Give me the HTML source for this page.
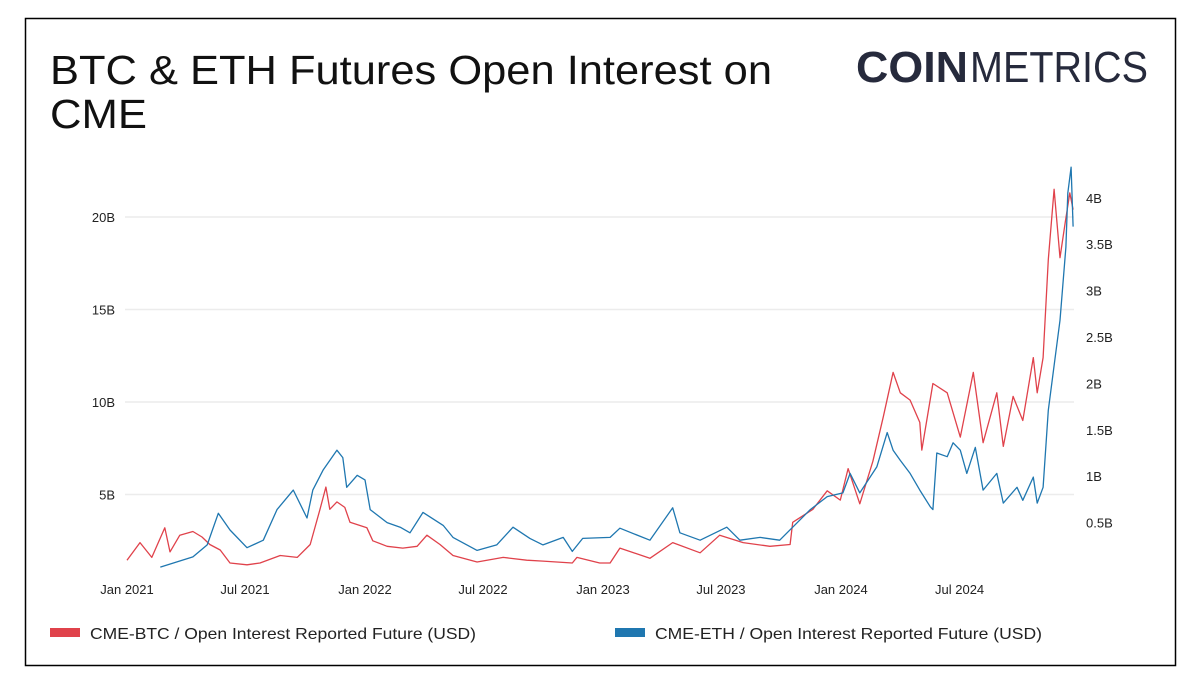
<!DOCTYPE html>
<html><head><meta charset="utf-8"><style>
body{margin:0;background:#fff;width:1200px;height:692px;overflow:hidden;font-family:"Liberation Sans",sans-serif}
</style></head><body>
<svg width="1200" height="692" xmlns="http://www.w3.org/2000/svg">
<rect x="25.5" y="18.5" width="1150" height="647" fill="#fff" stroke="#000" stroke-width="1.5"/>
<text x="50" y="84" font-size="41" fill="#111" textLength="722" lengthAdjust="spacingAndGlyphs">BTC &amp; ETH Futures Open Interest on</text>
<text x="50" y="128" font-size="41" fill="#111" textLength="97" lengthAdjust="spacingAndGlyphs">CME</text>
<g>
<text x="856" y="82" font-size="44" fill="#262a3c" font-weight="bold" textLength="112" lengthAdjust="spacingAndGlyphs">COIN</text>
<text x="970" y="82" font-size="44" fill="#262a3c" textLength="178" lengthAdjust="spacingAndGlyphs" style="font-weight:300">METRICS</text>
</g>
<g id="grid"></g><g id="axes"></g><g id="series"></g>
<g>
<rect x="50" y="628" width="30" height="9" fill="#e0424b"/>
<text x="90" y="639" font-size="16" fill="#222" textLength="386" lengthAdjust="spacingAndGlyphs">CME-BTC / Open Interest Reported Future (USD)</text>
<rect x="615" y="628" width="30" height="9" fill="#1f77b0"/>
<text x="655" y="639" font-size="16" fill="#222" textLength="387" lengthAdjust="spacingAndGlyphs">CME-ETH / Open Interest Reported Future (USD)</text>
</g>
</svg>
<script>
const leftTicks=[5,10,15,20];
const leftTickLabels=["5B","10B","15B","20B"];
const rightTicks=[0.5,1,1.5,2,2.5,3,3.5,4];
const rightTickLabels=["0.5B","1B","1.5B","2B","2.5B","3B","3.5B","4B"];
const xTicks=["2021-01-01","2021-07-01","2022-01-01","2022-07-01","2023-01-01","2023-07-01","2024-01-01","2024-07-01"];
const xTickLabels=["Jan 2021","Jul 2021","Jan 2022","Jul 2022","Jan 2023","Jul 2023","Jan 2024","Jul 2024"];
const btcDates=["2021-01-01","2021-01-21","2021-02-08","2021-02-28","2021-03-08","2021-03-23","2021-04-12","2021-04-26","2021-05-08","2021-05-24","2021-06-08","2021-07-04","2021-07-24","2021-08-24","2021-09-19","2021-10-09","2021-10-24","2021-11-02","2021-11-08","2021-11-19","2021-12-01","2021-12-09","2022-01-04","2022-01-13","2022-02-04","2022-02-28","2022-03-22","2022-04-06","2022-04-26","2022-05-16","2022-06-22","2022-08-01","2022-09-06","2022-10-01","2022-11-15","2022-11-22","2022-12-27","2023-01-12","2023-01-27","2023-03-14","2023-04-18","2023-05-30","2023-06-29","2023-08-04","2023-09-14","2023-10-15","2023-10-19","2023-11-19","2023-12-11","2023-12-31","2024-01-12","2024-01-30","2024-02-19","2024-03-06","2024-03-21","2024-04-01","2024-04-16","2024-05-01","2024-05-04","2024-05-21","2024-06-12","2024-07-02","2024-07-22","2024-08-06","2024-08-27","2024-09-06","2024-09-21","2024-10-06","2024-10-22","2024-10-28","2024-11-06","2024-11-14","2024-11-23","2024-12-02","2024-12-10","2024-12-17","2024-12-22"];
const btcValues=[1.45,2.4,1.6,3.2,1.9,2.8,3.0,2.7,2.3,2.0,1.3,1.2,1.3,1.7,1.6,2.3,4.2,5.4,4.2,4.6,4.3,3.5,3.2,2.5,2.2,2.1,2.2,2.8,2.3,1.7,1.35,1.6,1.45,1.4,1.3,1.6,1.3,1.3,2.1,1.55,2.4,1.85,2.8,2.4,2.2,2.3,3.5,4.2,5.2,4.7,6.4,4.5,6.8,9.2,11.6,10.5,10.1,8.9,7.4,11.0,10.5,8.1,11.6,7.8,10.5,7.6,10.3,9.0,12.4,10.5,12.4,17.7,21.5,17.8,19.7,21.3,20.4];
const ethDates=["2021-02-21","2021-04-12","2021-05-04","2021-05-21","2021-06-08","2021-07-04","2021-07-29","2021-08-19","2021-09-13","2021-10-04","2021-10-13","2021-10-29","2021-11-19","2021-11-28","2021-12-04","2021-12-20","2022-01-01","2022-01-09","2022-02-04","2022-02-24","2022-03-11","2022-03-31","2022-05-01","2022-05-16","2022-06-22","2022-07-22","2022-08-16","2022-09-11","2022-10-01","2022-11-01","2022-11-15","2022-12-01","2023-01-12","2023-01-27","2023-03-14","2023-04-18","2023-04-29","2023-05-30","2023-07-10","2023-07-30","2023-08-30","2023-09-29","2023-10-19","2023-11-15","2023-12-11","2024-01-04","2024-01-15","2024-01-30","2024-02-25","2024-03-12","2024-03-21","2024-04-01","2024-04-16","2024-05-01","2024-05-17","2024-05-21","2024-05-27","2024-06-12","2024-06-21","2024-07-02","2024-07-12","2024-07-25","2024-08-06","2024-08-27","2024-09-06","2024-09-27","2024-10-06","2024-10-22","2024-10-28","2024-11-06","2024-11-14","2024-11-24","2024-12-02","2024-12-11","2024-12-14","2024-12-19","2024-12-22"];
const ethValues=[0.02,0.13,0.26,0.6,0.42,0.23,0.31,0.64,0.85,0.55,0.85,1.07,1.28,1.2,0.88,1.01,0.96,0.64,0.5,0.45,0.39,0.61,0.47,0.34,0.2,0.26,0.45,0.33,0.26,0.34,0.19,0.33,0.34,0.44,0.31,0.66,0.39,0.31,0.45,0.31,0.34,0.31,0.45,0.64,0.78,0.82,1.03,0.82,1.1,1.47,1.28,1.17,1.03,0.85,0.67,0.64,1.25,1.21,1.36,1.28,1.03,1.31,0.85,1.03,0.71,0.88,0.74,0.99,0.71,0.88,1.71,2.25,2.68,3.47,4.05,4.33,3.69];

const NS="http://www.w3.org/2000/svg";
const t0=Date.UTC(2021,0,1);
function xScale(d){const p=d.split("-");const days=(Date.UTC(+p[0],+p[1]-1,+p[2])-t0)/86400000;return 127+0.652*days;}
function yLeft(v){return 587-18.5*v;}
function yRight(v){return 569-92.8*v;}
function mk(tag,attrs,parent){const e=document.createElementNS(NS,tag);for(const k in attrs)e.setAttribute(k,attrs[k]);parent.appendChild(e);return e;}
const grid=document.getElementById("grid"),axes=document.getElementById("axes"),series=document.getElementById("series");
leftTicks.forEach((v,i)=>{
 const l=mk("line",{x1:125,x2:1074,y1:yLeft(v),y2:yLeft(v),stroke:"#ececec","stroke-width":1.5},grid);
 
 
 const t=mk("text",{x:115,y:yLeft(v)+5,"font-size":13,fill:"#222","text-anchor":"end"},axes);
 t.textContent=leftTickLabels[i];
 
 
});
rightTicks.forEach((v,i)=>{
 const t=mk("text",{x:1086,y:yRight(v)+5,"font-size":13,fill:"#222"},axes);
 t.textContent=rightTickLabels[i];
 
 
});
xTicks.forEach((d,i)=>{
 const t=mk("text",{x:xScale(d),y:594,"font-size":13,fill:"#222","text-anchor":"middle"},axes);
 t.textContent=xTickLabels[i];
 
 
});
function line(dates,vals,ys,color,name){
 const pts=dates.map((d,i)=>xScale(d).toFixed(1)+","+ys(vals[i]).toFixed(1)).join(" ");
 const p=mk("polyline",{points:pts,fill:"none",stroke:color,"stroke-width":1.3,"stroke-linejoin":"round"},series);
 
 
}
line(btcDates,btcValues,yLeft,"#e0424b","btc-open-interest-line");
line(ethDates,ethValues,yRight,"#1f77b0","eth-open-interest-line");
</script>
</body></html>
